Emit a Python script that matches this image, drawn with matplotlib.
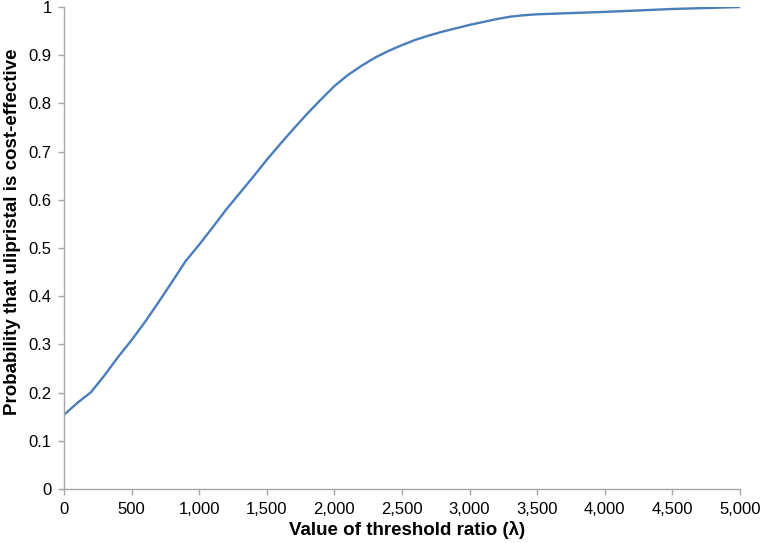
import matplotlib
matplotlib.use("Agg")
import matplotlib.pyplot as plt
from matplotlib.ticker import FuncFormatter

# Acceptability curve
threshold = [0, 100, 200, 300, 400, 500, 600, 700, 800, 900, 1000,
             1100, 1200, 1300, 1400, 1500, 1600, 1700, 1800, 1900, 2000,
             2100, 2200, 2300, 2400, 2500, 2600, 2700, 2800, 2900, 3000,
             3100, 3200, 3300, 3400, 3500, 3700, 4000, 4250, 4500, 4750, 5000]
prob = [0.154, 0.179, 0.201, 0.236, 0.274, 0.309, 0.347, 0.388, 0.430, 0.473, 0.507,
        0.543, 0.580, 0.614, 0.648, 0.683, 0.716, 0.748, 0.779, 0.808, 0.836,
        0.859, 0.878, 0.895, 0.909, 0.921, 0.932, 0.941, 0.949, 0.956, 0.963,
        0.969, 0.975, 0.980, 0.983, 0.985, 0.987, 0.990, 0.993, 0.996, 0.998, 1.0]

x_ticks = [0, 500, 1000, 1500, 2000, 2500, 3000, 3500, 4000, 4500, 5000]
y_ticks = [0, 0.1, 0.2, 0.3, 0.4, 0.5, 0.6, 0.7, 0.8, 0.9, 1]

plt.rcParams['font.family'] = ['Liberation Sans', 'DejaVu Sans']

fig = plt.figure(figsize=(7.62, 5.43), dpi=100)
ax = fig.add_axes([0.084, 0.0994, 0.887, 0.8876])

ax.plot(threshold, prob, color='#4a7ebb', linewidth=1.7,
        solid_joinstyle='round', solid_capstyle='round')

ax.set_xlim(0, 5000)
ax.set_ylim(0, 1)
ax.set_xticks(x_ticks)
ax.set_yticks(y_ticks)
ax.xaxis.set_major_formatter(FuncFormatter(lambda v, p: f"{int(v):,}"))
ax.yaxis.set_major_formatter(FuncFormatter(lambda v, p: "0" if v == 0 else ("1" if v == 1 else f"{v:.1f}")))

for s in ['top', 'right']:
    ax.spines[s].set_visible(False)
for s in ['left', 'bottom']:
    ax.spines[s].set_color('#a6a6a6')
    ax.spines[s].set_linewidth(1.0)
ax.tick_params(axis='both', colors='#a6a6a6', labelcolor='black', labelsize=12,
               length=4, width=1.0, direction='out')
ax.tick_params(axis='x', pad=5.5)
ax.tick_params(axis='y', pad=5)

ax.set_xlabel('Value of threshold ratio (λ)', fontsize=13.5, fontweight='bold')
ax.set_ylabel('Probability that ulipristal is cost-effective', fontsize=13.5,
              fontweight='bold')
ax.xaxis.set_label_coords(0.508, -0.067)
ax.yaxis.set_label_coords(-0.063, 0.533)

fig.savefig('out.png', dpi=100)
